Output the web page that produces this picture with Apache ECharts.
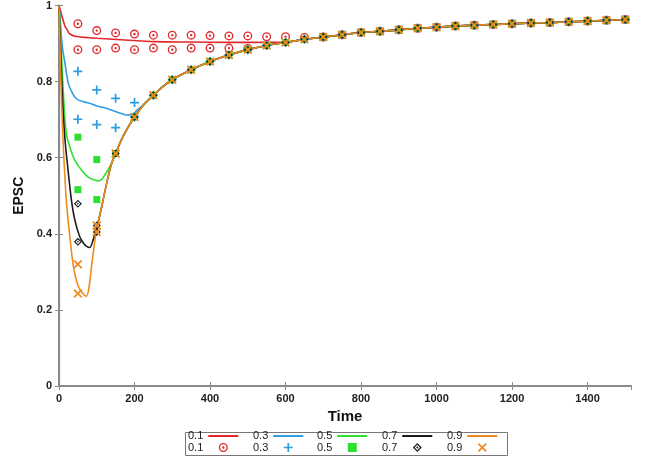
<!DOCTYPE html>
<html>
<head>
<meta charset="utf-8">
<script src="https://cdn.jsdelivr.net/npm/echarts@6/dist/echarts.min.js"></script>
<style>
html,body{margin:0;padding:0;background:#fff;}
#chart{width:652px;height:466px;}
</style>
</head>
<body>
<div id="chart"></div>
<script>
// ---- Data ----
const seriesNames = ['0.1', '0.3', '0.5', '0.7', '0.9'];
const colors = ['#e2282a', '#2b9de0', '#2ee02e', '#1c1c1c', '#ef8a1f'];

const xTickLabels = [0, 200, 400, 600, 800, 1000, 1200, 1400];
const yTickLabels = [0, 0.2, 0.4, 0.6, 0.8, 1];

// converged (common) curve
const commonLineT = [100, 113, 126, 139, 150, 165, 180, 200, 225, 250, 275, 300, 350, 400, 450, 500, 550, 600, 650, 700, 750, 800, 850, 900, 950, 1000, 1050, 1100, 1150, 1200, 1250, 1300, 1350, 1400, 1450, 1500];
const commonLineV = [0.414, 0.471, 0.532, 0.584, 0.611, 0.646, 0.675, 0.707, 0.740, 0.764, 0.787, 0.805, 0.831, 0.853, 0.870, 0.884, 0.895, 0.903, 0.911, 0.917, 0.923, 0.929, 0.932, 0.936, 0.940, 0.943, 0.946, 0.948, 0.950, 0.952, 0.954, 0.955, 0.957, 0.959, 0.961, 0.963];

// early parts of the simulated lines (before joining the common curve)
const line01T = [0, 3, 7, 11, 16, 20, 25, 29, 42, 60, 100, 165, 253, 350, 450, 550, 600];
const line01V = [1, 0.99, 0.975, 0.961, 0.945, 0.939, 0.93, 0.925, 0.919, 0.917, 0.914, 0.910, 0.905, 0.904, 0.903, 0.903, 0.903];
const line03T = [0, 4, 8, 12, 16, 20, 25, 33, 42, 55, 69, 85, 104, 125, 148, 165, 174, 185, 192, 200, 209];
const line03V = [1, 0.95, 0.9, 0.87, 0.847, 0.82, 0.794, 0.775, 0.759, 0.75, 0.746, 0.742, 0.735, 0.73, 0.722, 0.716, 0.713, 0.712, 0.714, 0.718, 0.727];
const line05T = [0, 5, 10, 15, 20, 25, 33, 42, 60, 77, 90, 104, 113, 121, 128, 134];
const line05V = [1, 0.9, 0.8, 0.71, 0.66, 0.64, 0.615, 0.593, 0.567, 0.549, 0.543, 0.539, 0.543, 0.554, 0.565, 0.576];
const line07T = [0, 5, 10, 16, 25, 33, 42, 55, 65, 73, 82, 90, 97];
const line07V = [1, 0.86, 0.74, 0.646, 0.558, 0.488, 0.436, 0.392, 0.375, 0.367, 0.364, 0.383, 0.405];
const line09T = [0, 5, 10, 15, 20, 29, 38, 51, 64, 73, 80, 86, 95];
const line09V = [1, 0.8, 0.66, 0.56, 0.48, 0.39, 0.315, 0.262, 0.242, 0.236, 0.262, 0.313, 0.383];

// marker times and upper/lower marker values before convergence
const markerTimes = [50, 100, 150, 200, 250, 300, 350, 400, 450, 500, 550, 600, 650, 700, 750, 800, 850, 900, 950, 1000, 1050, 1100, 1150, 1200, 1250, 1300, 1350, 1400, 1450, 1500];
const mark01Upper = [0.952, 0.934, 0.928, 0.925, 0.922, 0.922, 0.922, 0.921, 0.920, 0.920, 0.918, 0.918, 0.916];
const mark01Lower = [0.884, 0.884, 0.888, 0.884, 0.888, 0.884, 0.888, 0.888, 0.888, 0.887];
const mark03Upper = [0.827, 0.778, 0.756, 0.745];
const mark03Lower = [0.701, 0.687, 0.679, 0.707];
const mark05Upper = [0.654, 0.595];
const mark05Lower = [0.516, 0.490];
const mark07Upper = [0.479, 0.422];
const mark07Lower = [0.379, 0.405];
const mark09Upper = [0.320, 0.422];
const mark09Lower = [0.243, 0.405];

// ---- build series data ----
function commonAt(t) { return commonLineV[commonLineT.indexOf(t)]; }
function buildLine(ts, vs) {
  const out = ts.map((t, i) => [t, vs[i]]);
  const last = ts[ts.length - 1];
  commonLineT.forEach((t, i) => { if (t > last) out.push([t, commonLineV[i]]); });
  return out;
}
function buildMarks(up, lo) {
  const out = [];
  markerTimes.forEach((t, i) => {
    out.push([t, i < up.length ? up[i] : commonAt(t)]);
    if (i < lo.length) out.push([t, lo[i]]);
  });
  return out;
}
const lineData = [
  buildLine(line01T, line01V), buildLine(line03T, line03V), buildLine(line05T, line05V),
  buildLine(line07T, line07V), buildLine(line09T, line09V)
];
const markData = [
  buildMarks(mark01Upper, mark01Lower), buildMarks(mark03Upper, mark03Lower), buildMarks(mark05Upper, mark05Lower),
  buildMarks(mark07Upper, mark07Lower), buildMarks(mark09Upper, mark09Lower)
];

const symRing = 'path://M0,-10A10,10 0 1 1 0,10A10,10 0 1 1 0,-10ZM0,-7A7,7 0 1 0 0,7A7,7 0 1 0 0,-7ZM0,-2.6A2.6,2.6 0 1 1 0,2.6A2.6,2.6 0 1 1 0,-2.6Z';
const symPlus = 'path://M-1.9,-10L1.9,-10L1.9,-1.9L10,-1.9L10,1.9L1.9,1.9L1.9,10L-1.9,10L-1.9,1.9L-10,1.9L-10,-1.9L-1.9,-1.9Z';
const symBox = 'path://M-10,-10L10,-10L10,10L-10,10Z';
const symDiamond = 'path://M0,-10L10,0L0,10L-10,0ZM0,-6L-6,0L0,6L6,0ZM0,-2.6L2.6,0L0,2.6L-2.6,0Z';
const symX = 'path://M-10,-7.3L-7.3,-10L0,-2.7L7.3,-10L10,-7.3L2.7,0L10,7.3L7.3,10L0,2.7L-7.3,10L-10,7.3L-2.7,0Z';
const markSymbols = [symRing, symPlus, symBox, symDiamond, symX];
const markSizes = [9, 9, 7, 8, 9];

const series = [];
seriesNames.forEach((n, i) => {
  series.push({
    name: n, type: 'line', data: lineData[i], symbol: 'none', smooth: 0.25,
    lineStyle: { color: colors[i], width: 1.6 }, itemStyle: { color: colors[i] },
    xAxisIndex: 0, yAxisIndex: 0, z: 2, animation: false
  });
});
seriesNames.forEach((n, i) => {
  series.push({
    name: n + ' ', type: 'scatter', data: markData[i], symbol: markSymbols[i], symbolSize: markSizes[i],
    symbolKeepAspect: true,
    itemStyle: { color: colors[i], opacity: 1 }, xAxisIndex: 0, yAxisIndex: 0, z: 3, animation: false
  });
});

const axisGray = '#8a8a8a';
const labelFont = { fontFamily: 'Liberation Sans, Arial, sans-serif', fontWeight: 'bold', fontSize: 11, color: '#222' };
const legendText = { fontFamily: 'Liberation Sans, Arial, sans-serif', fontSize: 11, color: '#222' };
const legendCols = [188, 253, 317, 382, 447];

const legends = [];
seriesNames.forEach((n, i) => {
  legends.push({
    data: [{ name: n, icon: 'rect' }], left: legendCols[i], top: 430.5, align: 'right',
    itemWidth: 30, itemHeight: 2, padding: 0, selectedMode: false, textStyle: legendText
  });
  legends.push({
    data: [{ name: n + ' ', icon: markSymbols[i] }], left: legendCols[i], top: 442, align: 'right',
    itemWidth: 30, itemHeight: 9, padding: 0, selectedMode: false, symbolKeepAspect: true,
    formatter: s => s.trim(), textStyle: legendText
  });
});

const chart = echarts.init(document.getElementById('chart'), null, { renderer: 'canvas' });
chart.setOption({
  animation: false,
  backgroundColor: '#fff',
  grid: { left: 59, right: 21, top: 5, bottom: 80, containLabel: false },
  xAxis: [{
    type: 'value', min: 0, max: 1515, interval: 200, position: 'bottom',
    name: 'Time', nameLocation: 'middle', nameGap: 19,
    nameTextStyle: { fontFamily: 'Liberation Sans, Arial, sans-serif', fontWeight: 'bold', fontSize: 15, color: '#111' },
    axisLine: { show: true, lineStyle: { color: axisGray, width: 2 } },
    axisTick: { show: true, inside: true, length: 4, lineStyle: { color: axisGray } },
    axisLabel: Object.assign({ margin: 7, showMaxLabel: false,
      formatter: v => xTickLabels.indexOf(v) >= 0 ? String(v) : '' }, labelFont),
    splitLine: { show: false }
  }, {
    type: 'value', min: 0, max: 1515, interval: 200, position: 'top',
    axisLine: { show: true, lineStyle: { color: axisGray, width: 1.2 } },
    axisTick: { show: true, inside: true, length: 4, lineStyle: { color: axisGray } },
    axisLabel: { show: false }, splitLine: { show: false }
  }],
  yAxis: [{
    type: 'value', min: 0, max: 1, interval: 0.2, position: 'left',
    name: 'EPSC', nameLocation: 'middle', nameGap: 29,
    nameTextStyle: { fontFamily: 'Liberation Sans, Arial, sans-serif', fontWeight: 'bold', fontSize: 14, color: '#111' },
    axisLine: { show: true, lineStyle: { color: axisGray, width: 2 } },
    axisTick: { show: true, inside: true, length: 4, lineStyle: { color: axisGray } },
    axisLabel: Object.assign({ margin: 7,
      formatter: v => { const m = yTickLabels.find(y => Math.abs(y - v) < 1e-9); return m === undefined ? '' : String(m); } }, labelFont),
    splitLine: { show: false }
  }, {
    type: 'value', min: 0, max: 1, interval: 0.2, position: 'right',
    axisLine: { show: true, lineStyle: { color: axisGray, width: 1.2 } },
    axisTick: { show: true, inside: true, length: 4, lineStyle: { color: axisGray } },
    axisLabel: { show: false }, splitLine: { show: false }
  }],
  legend: legends,
  graphic: [{
    type: 'rect', left: 183, top: 430, shape: { width: 322, height: 23 },
    style: { fill: 'none', stroke: '#777', lineWidth: 1 }, silent: true
  }],
  series: series
});
</script>
</body>
</html>
